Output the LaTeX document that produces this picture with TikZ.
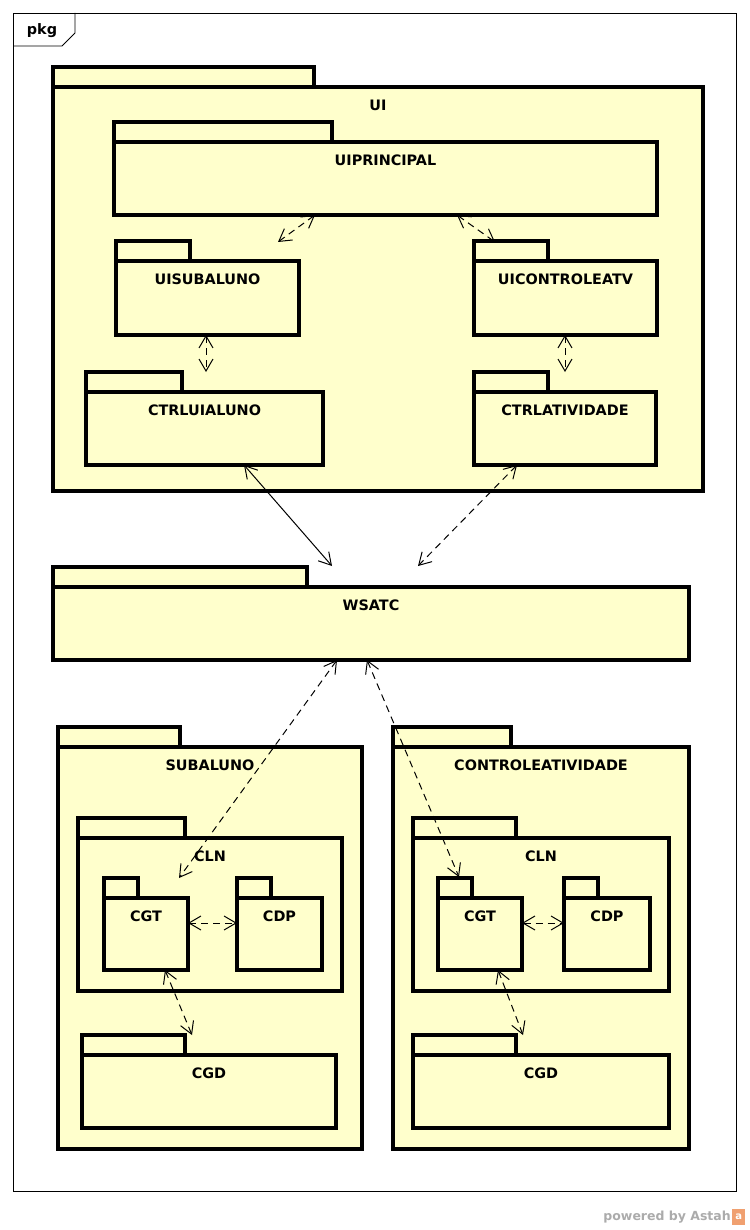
\documentclass[tikz,border=0pt]{standalone}
\usepackage{fontspec}
\setmainfont{DejaVu Sans}
\usetikzlibrary{arrows.meta}
\definecolor{pkgfill}{HTML}{FFFFCC}
\definecolor{astahorange}{HTML}{F0A070}
\tikzset{barb/.tip = {Straight Barb[length = 12pt, width = 14pt]}}

\begin{document}
\begin{tikzpicture}[x=1pt,y=-1pt]
		\tikzstyle{every node} = [font = \bfseries\fontsize{14.4}{16}\selectfont]
		\tikzstyle{pkgline} = [draw, line width = 3.1pt, fill = pkgfill]
		\tikzstyle{pkgbody} = [pkgline, rectangle, inner sep = 0, outer sep = 0, anchor = north west]
		\tikzstyle{dep} = [line width = 1pt, dash pattern = on 7pt off 5pt, barb-barb]
		\tikzstyle{use} = [line width = 1pt, barb-barb]
		\useasboundingbox (0,0) rectangle (749,1230);

		% frame
		\draw [line width = .9pt] (13,13) rectangle (736,1191);
		\draw [line width = .9pt] (13,46) -- (62,46) -- (75,33) -- (75,13);
		\node (pkg) at (42,31) {pkg};

		% name/left/tab top/tab right/body top/right/bottom/label
		\foreach \n/\xa/\ya/\xt/\yb/\xb/\yc/\lbl in {
			ui/53/67/314/87/703/491/UI,
			uip/114/122/332/142/657/215/UIPRINCIPAL,
			uisub/116/241/190/261/299/335/UISUBALUNO,
			uictl/474/241/548/261/657/335/UICONTROLEATV,
			ctrlal/86/372/182/392/323/465/CTRLUIALUNO,
			ctrlat/474/372/548/392/656/465/CTRLATIVIDADE,
			wsatc/53/567/307/587/689/660/WSATC,
			sub/58/727/180/747/362/1149/SUBALUNO,
			clnL/78/818/185/838/342/991/CLN,
			cgtL/104/878/138/898/188/970/CGT,
			cdpL/237/878/271/898/322/970/CDP,
			cgdL/82/1035/185/1055/336/1128/CGD,
			ctl/393/727/511/747/689/1149/CONTROLEATIVIDADE,
			clnR/413/818/516/838/669/991/CLN,
			cgtR/438/878/472/898/522/970/CGT,
			cdpR/564/878/598/898/650/970/CDP,
			cgdR/413/1035/516/1055/669/1128/CGD}
		{
			\draw [pkgline] (\xa,\ya) rectangle (\xt,\yb);
			\node [pkgbody, minimum width = {(\xb-\xa)*1pt}, minimum height = {(\yc-\yb)*1pt}] (\n) at (\xa,\yb) {};
			\node (\n-lbl) at ([yshift = -18pt]\n.north) {\lbl};
		}

		\draw [dep] ([shift = {(201,0)}]uip.south west) -- ([shift = {(162,-19)}]uisub.north west); %uip to uisub
		\draw [dep] ([shift = {(343,0)}]uip.south west) -- ([shift = {(21,-19)}]uictl.north west); %uip to uictl
		\draw [dep] ([shift = {(90,0)}]uisub.south west) -- ([shift = {(120,-20)}]ctrlal.north west); %uisub to ctrlal
		\draw [dep] ([shift = {(91,0)}]uictl.south west) -- ([shift = {(91,-20)}]ctrlat.north west); %uictl to ctrlat
		\draw [use] ([shift = {(158,0)}]ctrlal.south west) -- ([shift = {(279,-21)}]wsatc.north west); %ctrlal to wsatc
		\draw [dep] ([shift = {(43,0)}]ctrlat.south west) -- ([shift = {(365,-21)}]wsatc.north west); %ctrlat to wsatc
		\draw [dep] ([shift = {(284,0)}]wsatc.south west) -- ([shift = {(75,-20)}]cgtL.north west); %wsatc to cgtL
		\draw [dep] ([shift = {(314,0)}]wsatc.south west) -- ([shift = {(21,-21)}]cgtR.north west); %wsatc to cgtR
		\draw [dep] ([shift = {(0,25)}]cgtL.north east) -- ([shift = {(0,25)}]cdpL.north west); %cgtL to cdpL
		\draw [dep] ([shift = {(0,25)}]cgtR.north east) -- ([shift = {(0,25)}]cdpR.north west); %cgtR to cdpR
		\draw [dep] ([shift = {(61,0)}]cgtL.south west) -- ([shift = {(110,-20)}]cgdL.north west); %cgtL to cgdL
		\draw [dep] ([shift = {(60,0)}]cgtR.south west) -- ([shift = {(110,-20)}]cgdR.north west); %cgtR to cgdR

		\node [font = \bfseries\fontsize{12.5}{14}\selectfont, text = black!33, anchor = east, inner sep = 0] (astah) at (731,1217) {powered by Astah};
		\node [fill = astahorange, text = white, inner sep = 0, minimum width = 13pt, minimum height = 16pt, anchor = west, font = \bfseries\fontsize{10}{10}\selectfont] (logo) at ([xshift = 1pt]astah.east) {a};
	\end{tikzpicture}
\end{document}
